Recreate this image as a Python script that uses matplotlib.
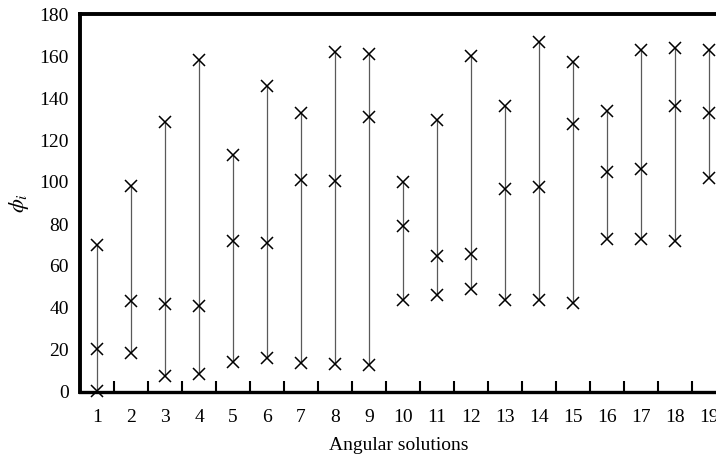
import numpy as np
import matplotlib.pyplot as plt
from matplotlib.ticker import FixedLocator

# angular solutions, three phi values each (deg)
solutions = list(range(1, 20))
phi_low = [0.5, 18.5, 7.5, 8.5, 14.3, 16, 13.8, 13.4, 12.8, 44, 46, 49, 43.8, 43.8, 42.4, 73, 72.8, 71.8, 102]
phi_mid = [20.5, 43.3, 42, 41, 72, 71, 101, 100.5, 131, 79, 64.7, 65.7, 96.7, 97.6, 127.6, 104.6, 106, 136, 132.7]
phi_high = [70, 98, 128.5, 158, 113, 145.7, 132.8, 162, 161, 100, 129.5, 160, 136, 166.5, 157, 133.8, 163, 164, 163]

plt.rcParams['font.family'] = ['Liberation Serif', 'DejaVu Serif']
plt.rcParams['mathtext.fontset'] = 'stix'

fig = plt.figure(figsize=(7.16, 4.59), dpi=100)
ax = fig.add_axes([80 / 716, 67 / 459, 1 - 80 / 716 + 0.002, 378 / 459])

x = np.array(solutions)
ax.vlines(x, phi_low, phi_high, color='0.35', lw=0.9)
for vals in (phi_low, phi_mid, phi_high):
    ax.plot(x, vals, ls='none', marker='x', color='black', ms=8, mew=1.1, clip_on=False)

ax.set_xlim(0.5, 19.24)
ax.set_ylim(0, 180)
ax.set_yticks(np.arange(0, 181, 20))
ax.set_xticks(solutions)
ax.xaxis.set_minor_locator(FixedLocator(np.arange(1.5, 19, 1)))
ax.tick_params(axis='x', which='major', length=0, pad=12, labelsize=14)
ax.tick_params(axis='x', which='minor', direction='in', length=8, width=1.5)
ax.tick_params(axis='y', length=0, pad=8, labelsize=14)

ax.spines['right'].set_visible(False)
ax.spines['left'].set_linewidth(2.8)
ax.spines['top'].set_linewidth(2.8)
ax.spines['bottom'].set_linewidth(2.4)

ax.set_xlabel('Angular solutions', fontsize=14, labelpad=8)
ax.set_ylabel(r'$\phi_i$', fontsize=16, labelpad=6)

fig.savefig('out.png', dpi=100)
